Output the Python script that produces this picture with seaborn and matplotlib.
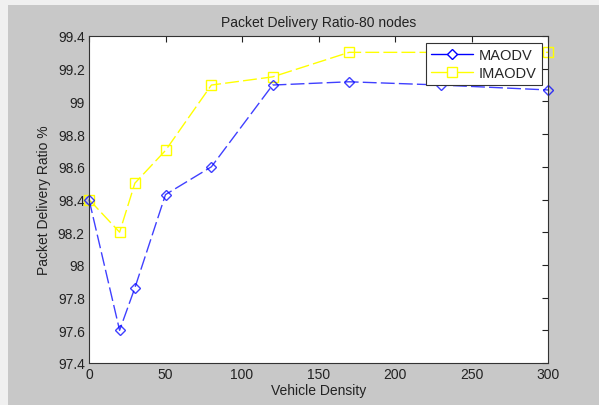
import matplotlib
matplotlib.use("Agg")
import matplotlib.pyplot as plt
import seaborn as sns
import pandas as pd
from matplotlib.lines import Line2D
from matplotlib.patches import Rectangle

density_maodv = [0, 20, 30, 50, 80, 120, 170, 230, 300]
pdr_maodv = [98.40, 97.60, 97.86, 98.43, 98.60, 99.10, 99.12, 99.10, 99.07]
density_imaodv = [0, 20, 30, 50, 80, 120, 170, 230, 300]
pdr_imaodv = [98.40, 98.20, 98.50, 98.70, 99.10, 99.15, 99.30, 99.30, 99.30]
x_ticks = [0, 50, 100, 150, 200, 250, 300]
y_ticks = [97.4, 97.6, 97.8, 98.0, 98.2, 98.4, 98.6, 98.8, 99.0, 99.2, 99.4]
y_tick_labels = ["97.4", "97.6", "97.8", "98", "98.2", "98.4", "98.6", "98.8", "99", "99.2", "99.4"]

sns.set_style("white")
plt.rcParams['font.family'] = ['Liberation Sans', 'DejaVu Sans']

df_m = pd.DataFrame({"x": density_maodv, "y": pdr_maodv})
df_i = pd.DataFrame({"x": density_imaodv, "y": pdr_imaodv})

fig = plt.figure(figsize=(5.99, 4.06), dpi=100, facecolor="#f0f0f0")
fig.patches.append(Rectangle((8/599, 0), 1, 1 - 6/406, transform=fig.transFigure,
                             facecolor="#c8c8c8", edgecolor="none", zorder=-10))
ax = fig.add_axes([89/599, 1 - 364/406, (548-89)/599, (364-37)/406])
ax.set_facecolor("white")

sns.lineplot(data=df_i, x="x", y="y", ax=ax, color="#ffff00", marker="s", markersize=6.5,
             markerfacecolor="none", markeredgecolor="#ffff00", markeredgewidth=1.0,
             linewidth=1.0, dashes=False, estimator=None, sort=False)
ax.lines[-1].set_dashes([10, 3])
ax.lines[-1].set_clip_on(False)
sns.lineplot(data=df_m, x="x", y="y", ax=ax, color="#0000ff", marker="D", markersize=5.5,
             markerfacecolor="none", markeredgecolor="#0000ff", markeredgewidth=1.0,
             linewidth=1.0, alpha=0.75, estimator=None, sort=False)
ax.lines[-1].set_dashes([10, 3])
ax.lines[-1].set_clip_on(False)

ax.set_xlim(0, 300)
ax.set_ylim(97.4, 99.4)
ax.set_xticks(x_ticks)
ax.set_xticklabels([str(t) for t in x_ticks])
ax.set_yticks(y_ticks)
ax.set_yticklabels(y_tick_labels)
ax.tick_params(direction="in", length=4, width=0.8, top=True, right=True,
               labelsize=10, colors="#222222", pad=3)
for s in ax.spines.values():
    s.set_color("#333333")
    s.set_linewidth(0.8)

ax.set_title("Packet Delivery Ratio-80 nodes", fontsize=10, color="#222222", pad=7)
ax.set_xlabel("Vehicle Density", fontsize=10, color="#222222", labelpad=1)
ax.set_ylabel("Packet Delivery Ratio %", fontsize=10, color="#222222", labelpad=5)

handles = [Line2D([], [], color="#0000ff", marker="D", markersize=5.5, markerfacecolor="white",
                  linewidth=1.0),
           Line2D([], [], color="#ffff00", marker="s", markersize=6.5, markerfacecolor="white",
                  linewidth=1.0)]
leg = ax.legend(handles, ["MAODV", "IMAODV"], loc="upper right",
                bbox_to_anchor=(542/599, 1 - 44/406), bbox_transform=fig.transFigure,
                fontsize=10.5, frameon=True, fancybox=False, edgecolor="#333333",
                handlelength=2.9, borderpad=0.35, labelspacing=0.25, handletextpad=0.4,
                borderaxespad=0)
leg.get_frame().set_linewidth(0.8)
leg.get_frame().set_alpha(1)

fig.savefig("out.png", dpi=100, facecolor=fig.get_facecolor())
